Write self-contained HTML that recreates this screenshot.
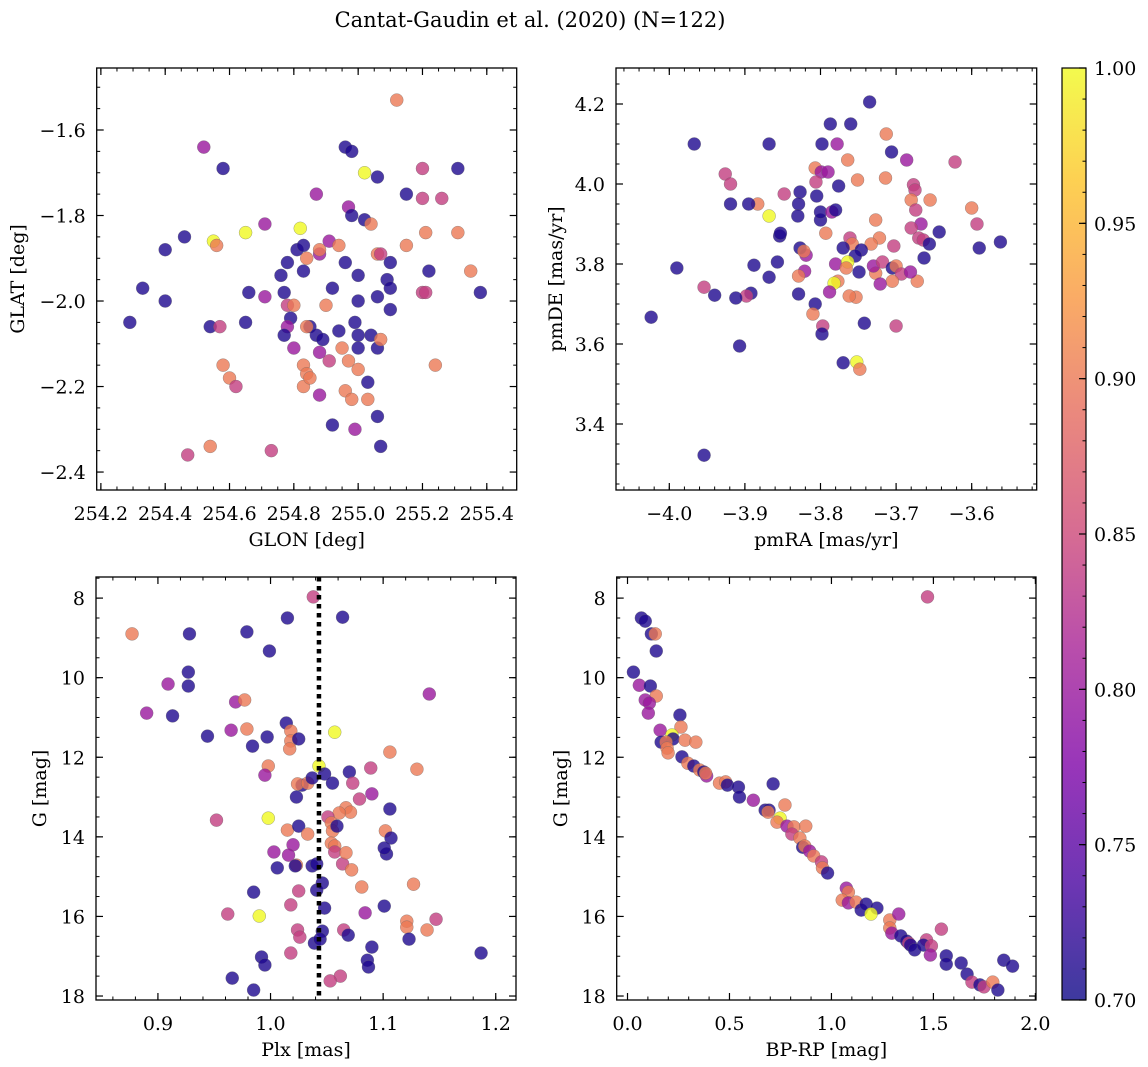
<!DOCTYPE html>
<html><head><meta charset="utf-8"><style>
body{margin:0;background:#fff;}
svg{display:block;font-family:"DejaVu Serif","Liberation Serif",serif;}
</style></head><body>
<svg id="fig" width="1148" height="1067" viewBox="0 0 1148 1067" xmlns="http://www.w3.org/2000/svg">
<defs><linearGradient id="plasma" x1="0" y1="1" x2="0" y2="0">
<stop offset="0" stop-color="#0d0887"/><stop offset="0.13" stop-color="#4b03a1"/><stop offset="0.25" stop-color="#7e03a8"/><stop offset="0.38" stop-color="#a82296"/><stop offset="0.5" stop-color="#cc4778"/><stop offset="0.63" stop-color="#e56b5d"/><stop offset="0.75" stop-color="#f89540"/><stop offset="0.88" stop-color="#fdc527"/><stop offset="1" stop-color="#f0f921"/>
</linearGradient></defs>
<text x="530" y="27" font-size="21" text-anchor="middle">Cantat-Gaudin et al. (2020) (N=122)</text>
</svg>
<script>
// Panel 1: GLON / GLAT
const glon=[255.12,254.52,254.58,254.96,254.98,255.02,255.06,255.20,255.31,255.26,255.20,255.15,254.87,254.55,254.56,254.65,254.71,254.82,254.97,254.98,255.02,255.04,254.46,254.40,254.33,254.40,254.29,254.54,254.57,254.58,254.60,254.62,254.54,254.47,254.73,254.66,254.65,254.71,254.76,254.78,254.81,254.83,254.83,254.84,254.88,254.88,254.91,254.94,254.96,255.06,255.07,255.10,255.15,255.09,255.00,254.92,255.00,255.06,255.10,255.10,255.20,255.21,255.22,255.35,255.31,255.21,255.38,255.24,254.77,254.78,254.80,254.79,254.78,254.77,254.80,254.83,254.84,254.83,254.85,254.85,254.87,254.84,254.88,254.90,254.89,254.91,254.94,254.95,254.99,255.00,255.00,255.04,255.06,255.07,255.00,254.97,255.03,254.88,254.96,254.98,255.03,255.06,254.92,254.99,255.07];
const glat=[-1.53,-1.64,-1.69,-1.64,-1.65,-1.70,-1.71,-1.69,-1.69,-1.76,-1.76,-1.75,-1.75,-1.86,-1.87,-1.84,-1.82,-1.83,-1.78,-1.80,-1.81,-1.82,-1.85,-1.88,-1.97,-2.00,-2.05,-2.06,-2.06,-2.15,-2.18,-2.20,-2.34,-2.36,-2.35,-1.98,-2.05,-1.99,-1.94,-1.91,-1.88,-1.87,-1.93,-1.90,-1.89,-1.88,-1.86,-1.87,-1.91,-1.89,-1.89,-1.91,-1.87,-1.95,-1.94,-1.97,-2.00,-1.99,-1.97,-2.02,-1.98,-1.98,-1.93,-1.93,-1.84,-1.84,-1.98,-2.15,-1.98,-2.01,-2.01,-2.04,-2.06,-2.08,-2.11,-2.15,-2.17,-2.20,-2.18,-2.06,-2.08,-2.06,-2.12,-2.01,-2.09,-2.14,-2.07,-2.11,-2.05,-2.08,-2.11,-2.08,-2.11,-2.09,-2.16,-2.14,-2.19,-2.22,-2.21,-2.23,-2.23,-2.27,-2.29,-2.30,-2.34];
const prob1=[0.90,0.80,0.71,0.71,0.71,1.0,0.71,0.84,0.71,0.84,0.84,0.71,0.80,1.0,0.90,1.0,0.80,1.0,0.80,0.71,0.71,0.90,0.71,0.71,0.71,0.71,0.71,0.71,0.84,0.90,0.90,0.84,0.90,0.84,0.84,0.71,0.71,0.80,0.71,0.71,0.71,0.71,0.71,0.90,0.80,0.90,0.80,0.90,0.71,0.90,0.84,0.71,0.90,0.71,0.71,0.71,0.71,0.71,0.71,0.71,0.84,0.84,0.71,0.90,0.90,0.90,0.71,0.90,0.71,0.84,0.90,0.71,0.80,0.71,0.80,0.90,0.90,0.90,0.90,0.71,0.71,0.90,0.80,0.90,0.71,0.84,0.71,0.90,0.71,0.71,0.71,0.71,0.71,0.90,0.90,0.90,0.71,0.80,0.90,0.90,0.90,0.71,0.71,0.80,0.71];
// Panel 2: proper motions
const pmra=[-3.967,-3.868,-3.735,-3.787,-3.760,-3.713,-3.798,-3.778,-3.706,-3.622,-3.686,-3.926,-3.919,-3.919,-3.883,-3.848,-3.827,-3.829,-3.830,-3.868,-3.895,-3.807,-3.799,-3.806,-3.790,-3.805,-3.776,-3.751,-3.764,-3.800,-3.800,-3.785,-3.780,-3.714,-3.677,-3.675,-3.680,-3.655,-3.674,-3.600,-3.643,-3.667,-3.680,-3.670,-3.664,-3.656,-3.593,-3.590,-3.562,-3.727,-3.722,-3.703,-3.733,-3.761,-3.758,-3.746,-3.754,-3.770,-3.780,-3.764,-3.766,-3.749,-3.727,-3.730,-3.718,-3.705,-3.700,-3.693,-3.705,-3.672,-3.681,-3.663,-3.721,-3.753,-3.762,-3.777,-3.782,-3.788,-3.819,-3.821,-3.857,-3.868,-3.829,-3.854,-3.853,-3.827,-3.822,-3.793,-3.829,-3.888,-3.807,-3.810,-3.797,-3.798,-3.770,-3.742,-3.700,-3.752,-3.748,-3.892,-3.898,-3.912,-3.940,-3.954,-3.990,-4.024,-3.907,-3.954];
const pmde=[4.100,4.100,4.205,4.150,4.150,4.125,4.100,4.100,4.080,4.055,4.060,4.025,4.000,3.950,3.950,3.975,3.980,3.950,3.920,3.920,3.950,4.040,4.030,4.005,4.030,3.970,3.995,4.010,4.060,3.910,3.930,3.930,3.935,4.015,3.998,3.985,3.960,3.960,3.935,3.940,3.880,3.900,3.890,3.865,3.860,3.850,3.900,3.840,3.855,3.910,3.865,3.845,3.850,3.865,3.850,3.835,3.820,3.840,3.800,3.805,3.790,3.780,3.777,3.795,3.805,3.790,3.795,3.775,3.757,3.757,3.780,3.815,3.750,3.717,3.720,3.757,3.752,3.730,3.822,3.782,3.805,3.767,3.770,3.870,3.877,3.840,3.832,3.877,3.725,3.797,3.700,3.675,3.645,3.625,3.553,3.652,3.645,3.555,3.537,3.727,3.720,3.715,3.722,3.742,3.790,3.667,3.595,3.322];
const prob2=[0.71,0.71,0.71,0.71,0.71,0.90,0.71,0.80,0.71,0.84,0.80,0.84,0.84,0.71,0.90,0.84,0.71,0.71,0.71,1.0,0.71,0.90,0.80,0.84,0.80,0.71,0.71,0.90,0.90,0.71,0.71,0.80,0.71,0.90,0.84,0.84,0.90,0.90,0.84,0.90,0.71,0.80,0.84,0.84,0.84,0.71,0.84,0.71,0.71,0.90,0.90,0.84,0.90,0.84,0.90,0.71,0.71,0.71,0.80,1.0,0.90,0.71,0.90,0.80,0.84,0.71,0.90,0.84,0.90,0.90,0.80,0.71,0.80,0.90,0.90,0.90,1.0,0.80,0.80,0.80,0.71,0.71,0.90,0.71,0.71,0.71,0.90,0.90,0.71,0.71,0.71,0.90,0.84,0.71,0.71,0.71,0.84,1.0,0.90,0.71,0.84,0.71,0.71,0.84,0.71,0.71,0.71,0.71];
// Panel 3: parallax vs G
const plx=[1.038,0.877,0.928,0.979,1.015,1.064,0.999,0.927,0.927,0.909,0.890,0.913,0.969,0.977,1.141,0.944,0.965,0.979,0.997,0.984,1.014,1.018,1.057,1.018,1.025,1.017,1.106,0.998,0.995,1.130,1.043,1.048,1.089,1.070,1.073,1.055,1.028,1.024,1.033,1.037,1.023,1.090,1.079,1.106,1.067,1.071,1.061,0.998,0.952,1.051,1.054,1.055,1.059,1.015,1.025,1.033,1.102,1.107,1.020,1.054,1.057,1.057,1.003,1.016,1.023,1.022,1.103,1.101,1.037,1.041,1.064,1.072,1.006,1.067,1.041,1.046,1.081,1.127,1.025,0.985,1.048,1.018,1.101,1.084,1.121,1.147,0.962,0.990,1.024,1.026,1.046,1.065,1.069,1.121,1.123,1.139,1.090,1.039,1.044,1.018,1.187,0.992,0.995,1.086,1.087,1.062,1.053,0.966,0.985];
const gmag3=[7.97,8.90,8.90,8.85,8.50,8.48,9.33,9.86,10.21,10.16,10.89,10.96,10.61,10.56,10.41,11.47,11.32,11.29,11.49,11.72,11.14,11.34,11.37,11.59,11.54,11.79,11.87,12.22,12.45,12.30,12.22,12.42,12.27,12.37,12.65,12.65,12.70,12.67,12.65,12.52,13.00,12.92,13.05,13.30,13.27,13.38,13.40,13.53,13.58,13.50,13.65,13.85,13.73,13.83,13.73,13.93,13.85,14.03,14.20,14.16,14.23,14.38,14.38,14.46,14.71,14.73,14.43,14.28,14.73,14.68,14.68,14.83,14.78,14.40,15.34,15.16,15.26,15.19,15.36,15.39,15.79,15.71,15.74,15.91,16.12,16.07,15.94,15.99,16.34,16.52,16.37,16.34,16.47,16.27,16.57,16.34,16.77,16.67,16.57,16.92,16.92,17.02,17.22,17.10,17.27,17.50,17.62,17.55,17.85];
const prob3=[0.84,0.90,0.71,0.71,0.71,0.71,0.71,0.71,0.71,0.80,0.80,0.71,0.80,0.90,0.80,0.71,0.80,0.90,0.71,0.71,0.71,0.90,1.0,0.90,0.71,0.90,0.90,0.90,0.80,0.90,1.0,0.71,0.84,0.71,0.84,0.71,0.71,0.90,0.90,0.71,0.71,0.80,0.84,0.71,0.90,0.90,0.90,1.0,0.84,0.84,0.90,0.90,0.71,0.90,0.71,0.90,0.90,0.71,0.80,0.90,0.90,0.84,0.80,0.80,0.90,0.71,0.71,0.71,0.71,0.71,0.84,0.90,0.71,0.90,0.71,0.71,0.90,0.90,0.84,0.71,0.71,0.84,0.71,0.80,0.90,0.84,0.84,1.0,0.84,0.84,0.71,0.84,0.71,0.90,0.71,0.90,0.71,0.71,0.71,0.84,0.71,0.71,0.71,0.71,0.71,0.84,0.84,0.71,0.71];
// Panel 4: colour-magnitude
const bprp=[1.471,0.068,0.087,0.117,0.136,0.141,0.029,0.058,0.112,0.141,0.087,0.107,0.102,0.257,0.160,0.262,0.218,0.223,0.282,0.335,0.165,0.189,0.194,0.199,0.267,0.296,0.325,0.354,0.374,0.388,0.383,0.451,0.481,0.490,0.544,0.549,0.714,0.617,0.675,0.694,0.689,0.772,0.748,0.733,0.782,0.816,0.806,0.874,0.845,0.859,0.869,0.893,0.913,0.951,0.956,0.981,1.073,1.083,1.053,1.083,1.121,1.146,1.170,1.223,1.194,1.286,1.286,1.296,1.330,1.340,1.369,1.379,1.388,1.466,1.408,1.451,1.490,1.539,1.485,1.563,1.563,1.636,1.665,1.689,1.728,1.748,1.791,1.845,1.888,1.816];
const gmag4=[7.97,8.50,8.58,8.90,8.90,9.33,9.86,10.19,10.21,10.46,10.56,10.64,10.89,10.94,11.32,11.24,11.44,11.54,11.57,11.62,11.62,11.62,11.77,11.89,11.99,12.15,12.22,12.32,12.37,12.47,12.40,12.65,12.62,12.70,12.75,13.00,12.67,13.08,13.33,13.33,13.38,13.20,13.53,13.63,13.73,13.75,13.93,13.73,14.03,14.26,14.23,14.36,14.48,14.63,14.78,14.91,15.29,15.39,15.59,15.66,15.64,15.84,15.69,15.79,15.94,16.09,16.29,16.42,15.94,16.49,16.62,16.67,16.72,16.59,16.84,16.72,16.74,16.32,16.97,16.99,17.20,17.17,17.45,17.65,17.72,17.77,17.65,17.10,17.25,17.85];
const prob4=[0.84,0.71,0.71,0.71,0.90,0.71,0.71,0.80,0.71,0.90,0.80,0.80,0.80,0.71,0.80,0.90,1.0,0.71,0.90,0.90,0.71,0.90,0.90,0.90,0.71,0.90,0.71,0.90,0.71,0.80,0.90,0.90,0.90,0.71,0.71,0.71,0.71,0.80,0.71,0.71,0.90,0.90,1.0,0.90,0.80,0.90,0.84,0.90,0.90,0.71,0.90,0.80,0.90,0.84,0.90,0.71,0.80,0.90,0.90,0.80,0.90,0.71,0.71,0.71,1.0,0.90,0.90,0.80,0.80,0.71,0.71,0.84,0.71,0.84,0.71,0.71,0.84,0.84,0.80,0.71,0.71,0.71,0.71,0.84,0.71,0.84,0.90,0.71,0.71,0.71];
const plxRef=[1.043];
const cbTicks=[0.70,0.75,0.80,0.85,0.90,0.95,1.00];

const NS='http://www.w3.org/2000/svg';
const svg=document.getElementById('fig');
const stops=[[0,[13,8,135]],[0.13,[75,3,161]],[0.25,[126,3,168]],[0.38,[168,34,150]],[0.5,[204,71,120]],[0.63,[229,107,93]],[0.75,[248,149,64]],[0.88,[253,197,39]],[1,[240,249,33]]];
function cmap(v){let t=Math.max(0,Math.min(1,(v-0.7)/0.3));for(let i=1;i<stops.length;i++){if(t<=stops[i][0]){const a=stops[i-1],b=stops[i];const f=(t-a[0])/(b[0]-a[0]);return 'rgb('+a[1].map((c,k)=>Math.round(c+(b[1][k]-c)*f)).join(',')+')';}}return 'rgb(240,249,33)';}
function mk(tag,attrs,parent){const e=document.createElementNS(NS,tag);for(const k in attrs)e.setAttribute(k,attrs[k]);(parent||svg).appendChild(e);return e;}
function fmt(v,d){const s=Math.abs(v).toFixed(d);return (v<-1e-9?'\u2212':'')+s;}
const FS=19;

function panel(o){
  const g=mk('g',{});
  
  
  const sx=v=>o.x0+(v-o.xd[0])/(o.xd[1]-o.xd[0])*(o.x1-o.x0);
  const sy=v=>o.inv? o.y0+(v-o.yd[0])/(o.yd[1]-o.yd[0])*(o.y1-o.y0) : o.y1-(v-o.yd[0])/(o.yd[1]-o.yd[0])*(o.y1-o.y0);
  const pg=mk('g',{},g);
  
  
  const n=Math.min(o.xs.length,o.ys.length);
  for(let i=0;i<n;i++){
    const c=mk('circle',{cx:sx(o.xs[i]),cy:sy(o.ys[i]),r:6.5,fill:cmap(o.cs[i]!==undefined?o.cs[i]:0.71),'fill-opacity':0.8,stroke:'#666','stroke-width':0.5,'stroke-opacity':0.6},pg);
    
    
  }
  if(o.vline){for(const v of o.vline){const l=mk('line',{x1:sx(v),x2:sx(v),y1:o.y0,y2:o.y1,stroke:'#000','stroke-width':4.5,'stroke-dasharray':'4.5,4.5'},g);
    
    }}
  const f=mk('rect',{x:o.x0,y:o.y0,width:o.x1-o.x0,height:o.y1-o.y0,fill:'none',stroke:'#000','stroke-width':1.3},g);
  
  
  const e=1e-6;
  for(let v=Math.ceil(o.xd[0]/o.xmi-e)*o.xmi;v<=o.xd[1]+e;v+=o.xmi){const X=sx(v);
    mk('line',{x1:X,x2:X,y1:o.y1,y2:o.y1-3.5,stroke:'#000','stroke-width':1},g);mk('line',{x1:X,x2:X,y1:o.y0,y2:o.y0+3.5,stroke:'#000','stroke-width':1},g);}
  for(const v of o.xt){const X=sx(v);
    mk('line',{x1:X,x2:X,y1:o.y1,y2:o.y1-7,stroke:'#000','stroke-width':1.2},g);mk('line',{x1:X,x2:X,y1:o.y0,y2:o.y0+7,stroke:'#000','stroke-width':1.2},g);
    const t=mk('text',{x:X,y:o.y1+30,'font-size':FS,'text-anchor':'middle'},g);t.textContent=fmt(v,o.xdp);
    
    }
  for(let v=Math.ceil(Math.min(...o.yd)/o.ymi-e)*o.ymi;v<=Math.max(...o.yd)+e;v+=o.ymi){const Y=sy(v);
    mk('line',{x1:o.x0,x2:o.x0+3.5,y1:Y,y2:Y,stroke:'#000','stroke-width':1},g);mk('line',{x1:o.x1,x2:o.x1-3.5,y1:Y,y2:Y,stroke:'#000','stroke-width':1},g);}
  for(const v of o.yt){const Y=sy(v);
    mk('line',{x1:o.x0,x2:o.x0+7,y1:Y,y2:Y,stroke:'#000','stroke-width':1.2},g);mk('line',{x1:o.x1,x2:o.x1-7,y1:Y,y2:Y,stroke:'#000','stroke-width':1.2},g);
    const t=mk('text',{x:o.x0-11,y:Y+7,'font-size':FS,'text-anchor':'end'},g);t.textContent=fmt(v,o.ydp);
    
    }
  const xl=mk('text',{x:(o.x0+o.x1)/2,y:o.y1+56,'font-size':FS,'text-anchor':'middle'},g);xl.textContent=o.xl;
  
  
  const yx=o.ylx, yy=(o.y0+o.y1)/2;
  const yl=mk('text',{x:yx,y:yy,'font-size':FS,'text-anchor':'middle',transform:`rotate(-90 ${yx} ${yy})`},g);yl.textContent=o.yl;
  
  
}
panel({name:'glon-glat-panel',x0:96.7,x1:516.7,y0:68,y1:490,xd:[254.187,255.493],yd:[-2.442,-1.455],xs:glon,ys:glat,cs:prob1,
  xt:[254.2,254.4,254.6,254.8,255.0,255.2,255.4],xmi:0.05,xdp:1,yt:[-2.4,-2.2,-2.0,-1.8,-1.6],ymi:0.05,ydp:1,xl:'GLON [deg]',yl:'GLAT [deg]',ylx:24});
panel({name:'proper-motion-panel',x0:616,x1:1036.7,y0:68,y1:490,xd:[-4.0705,-3.514],yd:[3.235,4.29],xs:pmra,ys:pmde,cs:prob2,
  xt:[-4.0,-3.9,-3.8,-3.7,-3.6],xmi:0.02,xdp:1,yt:[3.4,3.6,3.8,4.0,4.2],ymi:0.05,ydp:1,xl:'pmRA [mas/yr]',yl:'pmDE [mas/yr]',ylx:562});
panel({name:'parallax-magnitude-panel',x0:96,x1:516,y0:577,y1:1000,xd:[0.845,1.218],yd:[7.47,18.1],inv:true,xs:plx,ys:gmag3,cs:prob3,vline:plxRef,
  xt:[0.9,1.0,1.1,1.2],xmi:0.02,xdp:1,yt:[8,10,12,14,16,18],ymi:0.5,ydp:0,xl:'Plx [mas]',yl:'G [mag]',ylx:46});
panel({name:'color-magnitude-panel',x0:616.7,x1:1036,y0:577,y1:1000,xd:[-0.053,2.003],yd:[7.47,18.1],inv:true,xs:bprp,ys:gmag4,cs:prob4,
  xt:[0.0,0.5,1.0,1.5,2.0],xmi:0.1,xdp:1,yt:[8,10,12,14,16,18],ymi:0.5,ydp:0,xl:'BP-RP [mag]',yl:'G [mag]',ylx:567});

const cb=mk('g',{});


const cbx0=1062,cbx1=1086,cby0=68,cby1=1000;
mk('rect',{x:cbx0,y:cby0,width:cbx1-cbx0,height:cby1-cby0,fill:'url(#plasma)','fill-opacity':0.8},cb);
mk('rect',{x:cbx0,y:cby0,width:cbx1-cbx0,height:cby1-cby0,fill:'none',stroke:'#000','stroke-width':1.2},cb);
const cy=v=>cby1-(v-0.7)/0.3*(cby1-cby0);
for(let v=0.70;v<=1.0001;v+=0.01){const Y=cy(v);mk('line',{x1:cbx1,x2:cbx1-3.5,y1:Y,y2:Y,stroke:'#000','stroke-width':1},cb);}
for(const v of cbTicks){const Y=cy(v);mk('line',{x1:cbx1,x2:cbx1-7,y1:Y,y2:Y,stroke:'#000','stroke-width':1.2},cb);
  const t=mk('text',{x:1094,y:Y+7,'font-size':FS},cb);t.textContent=v.toFixed(2);
  
  }
</script>
</body></html>
